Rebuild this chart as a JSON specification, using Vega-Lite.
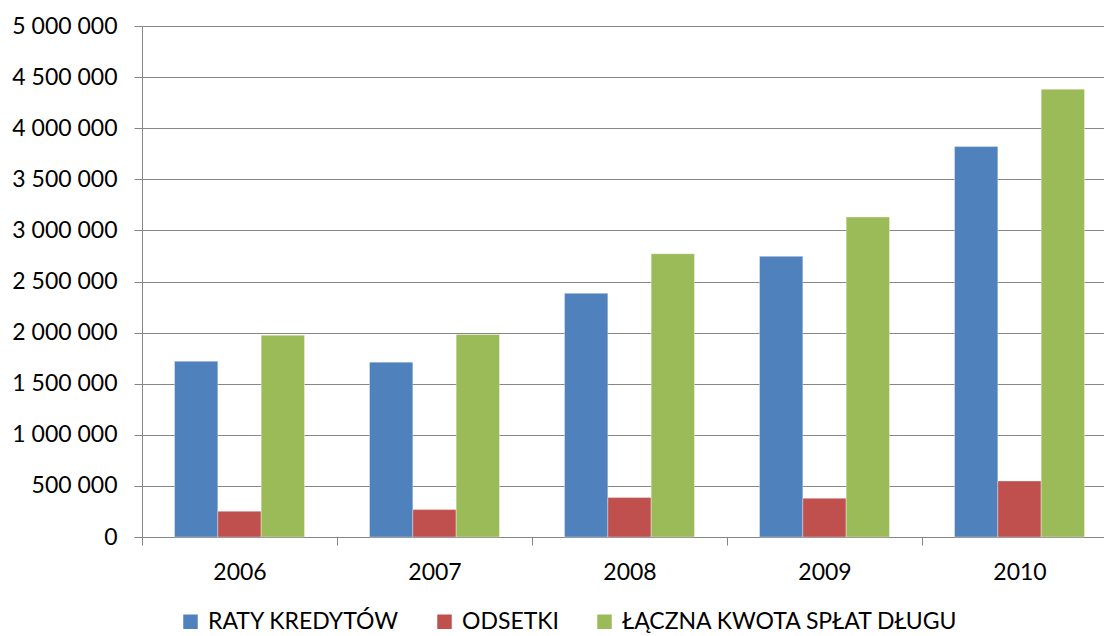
{
  "$schema": "https://vega.github.io/schema/vega-lite/v6.json",
  "autosize": {"type": "none"},
  "width": 962,
  "height": 511,
  "padding": {"left": 142, "top": 26, "right": 0, "bottom": 99},
  "background": "white",
  "data": {
    "values": [
      {"year": "2006", "series": "RATY KREDYTÓW", "value": 1720000},
      {"year": "2006", "series": "ODSETKI", "value": 252000},
      {"year": "2006", "series": "ŁĄCZNA KWOTA SPŁAT DŁUGU", "value": 1975000},
      {"year": "2007", "series": "RATY KREDYTÓW", "value": 1711000},
      {"year": "2007", "series": "ODSETKI", "value": 268000},
      {"year": "2007", "series": "ŁĄCZNA KWOTA SPŁAT DŁUGU", "value": 1982000},
      {"year": "2008", "series": "RATY KREDYTÓW", "value": 2384000},
      {"year": "2008", "series": "ODSETKI", "value": 386000},
      {"year": "2008", "series": "ŁĄCZNA KWOTA SPŁAT DŁUGU", "value": 2772000},
      {"year": "2009", "series": "RATY KREDYTÓW", "value": 2746000},
      {"year": "2009", "series": "ODSETKI", "value": 379000},
      {"year": "2009", "series": "ŁĄCZNA KWOTA SPŁAT DŁUGU", "value": 3131000},
      {"year": "2010", "series": "RATY KREDYTÓW", "value": 3820000},
      {"year": "2010", "series": "ODSETKI", "value": 548000},
      {"year": "2010", "series": "ŁĄCZNA KWOTA SPŁAT DŁUGU", "value": 4382000}
    ]
  },
  "mark": {"type": "bar", "stroke": "#ffffff", "strokeOpacity": 0.35, "strokeWidth": 1},
  "encoding": {
    "x": {
      "field": "year",
      "type": "nominal",
      "title": null,
      "scale": {"range": [0, 975], "paddingInner": 0, "paddingOuter": 0},
      "axis": {
        "labelAngle": 0,
        "tickBand": "extent",
        "tickSize": 8,
        "tickColor": "#868686",
        "domainColor": "#868686",
        "labelFont": "Lato",
        "labelFontSize": 23,
        "labelColor": "#000000",
        "labelPadding": 16,
        "grid": false
      }
    },
    "xOffset": {
      "field": "series",
      "type": "nominal",
      "sort": ["RATY KREDYTÓW", "ODSETKI", "ŁĄCZNA KWOTA SPŁAT DŁUGU"],
      "scale": {"paddingInner": 0, "paddingOuter": 0.75}
    },
    "y": {
      "field": "value",
      "type": "quantitative",
      "title": null,
      "scale": {"domain": [0, 5000000], "nice": false},
      "axis": {
        "values": [0, 500000, 1000000, 1500000, 2000000, 2500000, 3000000, 3500000, 4000000, 4500000, 5000000],
        "labelExpr": "replace(format(datum.value, ','), regexp(',', 'g'), ' ')",
        "tickSize": 8,
        "tickColor": "#868686",
        "domainColor": "#868686",
        "gridColor": "#868686",
        "gridWidth": 1,
        "labelFont": "Lato",
        "labelFontSize": 23,
        "labelColor": "#000000",
        "labelPadding": 17
      }
    },
    "color": {
      "field": "series",
      "type": "nominal",
      "sort": ["RATY KREDYTÓW", "ODSETKI", "ŁĄCZNA KWOTA SPŁAT DŁUGU"],
      "scale": {
        "domain": ["RATY KREDYTÓW", "ODSETKI", "ŁĄCZNA KWOTA SPŁAT DŁUGU"],
        "range": ["#4F81BD", "#C0504D", "#9BBB59"]
      },
      "legend": {
        "title": null,
        "orient": "none",
        "direction": "horizontal",
        "legendX": 37,
        "legendY": 584,
        "padding": 0,
        "symbolType": "square",
        "symbolSize": 210,
        "symbolStrokeWidth": 0,
        "symbolOpacity": 1,
        "labelFont": "Lato",
        "labelFontSize": 23,
        "labelColor": "#000000",
        "labelOffset": 6,
        "columnPadding": 34,
        "labelLimit": 0
      }
    }
  },
  "config": {"view": {"stroke": null}}
}
